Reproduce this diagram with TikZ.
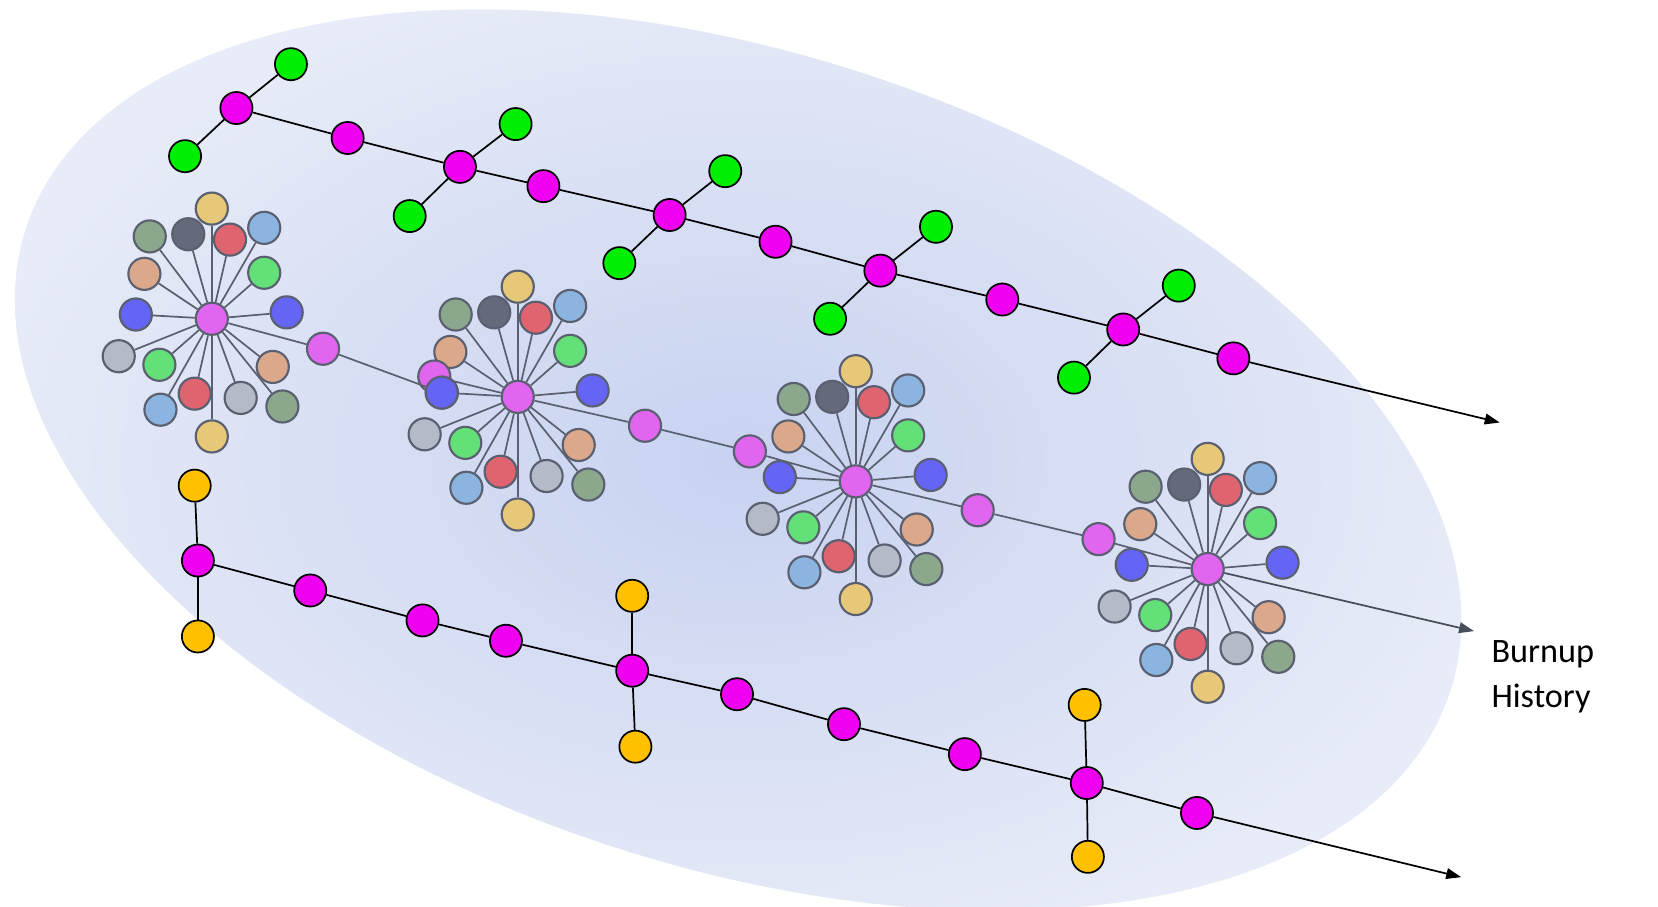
\documentclass[tikz,border=0pt]{standalone}
\usepackage{fontspec}
\setmainfont{Carlito}
\usetikzlibrary{arrows.meta}
\definecolor{cpink}{HTML}{E066F0}
\definecolor{mag}{HTML}{F000F0}
\definecolor{grn}{HTML}{00EE00}
\definecolor{org}{HTML}{FFC000}
\definecolor{edg}{HTML}{5A6070}
\definecolor{cY}{HTML}{E6C878}
\definecolor{cGG}{HTML}{8CA88C}
\definecolor{cD}{HTML}{646A7A}
\definecolor{cR}{HTML}{E06470}
\definecolor{cLB}{HTML}{8CB4E0}
\definecolor{cG}{HTML}{64E078}
\definecolor{cS}{HTML}{DCA88C}
\definecolor{cB}{HTML}{6464F5}
\definecolor{cGr}{HTML}{B4BAC8}
\definecolor{bgin}{HTML}{C8D2F0}
\definecolor{bgout}{HTML}{E8ECF8}
\tikzset{
 dot/.style={circle,draw=black,line width=0.8pt,minimum size=15pt,inner sep=0pt},
 sat/.style={circle,draw=edg,line width=1pt,minimum size=15pt,inner sep=0pt},
 cnode/.style={sat,fill=cpink},
 spoke/.style={draw=edg,line width=0.8pt},
 blk/.style={draw=black,line width=0.8pt},
 tip/.style={-{Triangle[length=7pt,width=5pt]}},
}
\begin{document}
\begin{tikzpicture}[x=0.5pt,y=-0.5pt]
\useasboundingbox (0,0) rectangle (1550,847);
\fill[white] (0,0) rectangle (1550,847);
\shade[inner color=bgin,outer color=bgout,rotate around={-18:(690,430)}] (690,430) ellipse [x radius=700,y radius=380];
% star clusters
\foreach \cx/\cy/\n in {198/298/1,484/371/2,800/450/3,1129/532/4}{
 \node[cnode] (c\n) at (\cx,\cy) {};
 \foreach \dx/\dy/\col [count=\i] in {0/-103/cY,-58/-77/cGG,-22/-79/cD,17/-74/cR,49/-85/cLB,49/-43/cG,-63/-42/cS,-71/-4/cB,70/-6/cB,-87/35/cGr,-49/43/cG,-16/70/cR,-48/85/cLB,27/74/cGr,57/45/cS,66/82/cGG,0/110/cY}{
  \node[sat,fill=\col] (s\n-\i) at (\cx+\dx,\cy+\dy) {};
  \draw[spoke] (c\n) -- (s\n-\i);
 }
}
% middle chain
\node[cnode] (m1) at (302,326) {};
\node[cnode] (m2) at (406,352) {};
\node[cnode] (m3) at (603,398) {};
\node[cnode] (m4) at (701,422) {};
\node[cnode] (m5) at (914,477) {};
\node[cnode] (m6) at (1027,504) {};
\node[sat,fill=cB] (s2x) at (413,367) {};
\coordinate (mend) at (1378,590);
\draw[spoke] (c1) -- (m1);
\draw[spoke] (m1) -- (s2x);
\draw[spoke] (m2) -- (c2);
\draw[spoke] (c2) -- (m3);
\draw[spoke] (m3) -- (m4);
\draw[spoke] (m4) -- (c3);
\draw[spoke] (c3) -- (m5);
\draw[spoke] (m5) -- (m6);
\draw[spoke] (m6) -- (c4);
\draw[spoke,tip,draw=edg!80!black] (c4) -- (mend);
% top chain
\foreach \x/\y [count=\i] in {221/101,325/129,430/156,508/174,626/201,725/226,823/253,937/280,1050/308,1153/335}
 \node[dot,fill=mag] (t\i) at (\x,\y) {};
\coordinate (tend) at (1402,395);
\foreach \a/\b in {1/2,2/3,3/4,4/5,5/6,6/7,7/8,8/9,9/10} \draw[blk] (t\a) -- (t\b);
\draw[blk,tip] (t10) -- (tend);
\foreach \k/\ux/\uy/\lx/\ly in {1/272/60/173/146,3/482/116/383/202,5/678/160/579/246,7/875/212/776/298,9/1102/267/1004/353}{
 \node[dot,fill=grn] (gu\k) at (\ux,\uy) {};
 \node[dot,fill=grn] (gl\k) at (\lx,\ly) {};
 \draw[blk] (t\k) -- (gu\k);
 \draw[blk] (t\k) -- (gl\k);
}
% bottom chain
\foreach \x/\y [count=\i] in {185/524,290/552,395/580,473/599,591/627,689/649,789/677,902/705,1016/732,1119/760}
 \node[dot,fill=mag] (b\i) at (\x,\y) {};
\coordinate (bend) at (1366,820);
\foreach \a/\b in {1/2,2/3,3/4,4/5,5/6,6/7,7/8,8/9,9/10} \draw[blk] (b\a) -- (b\b);
\draw[blk,tip] (b10) -- (bend);
\foreach \k/\ux/\uy/\lx/\ly in {1/182/454/185/595,5/591/557/594/698,9/1014/659/1017/801}{
 \node[dot,fill=org] (ou\k) at (\ux,\uy) {};
 \node[dot,fill=org] (ol\k) at (\lx,\ly) {};
 \draw[blk] (b\k) -- (ou\k);
 \draw[blk] (b\k) -- (ol\k);
}
\node[anchor=north west,align=left,font=\fontsize{16}{21}\selectfont,inner sep=0pt] (lbl) at (1394,598) {Burnup\\History};
\end{tikzpicture}
\end{document}
